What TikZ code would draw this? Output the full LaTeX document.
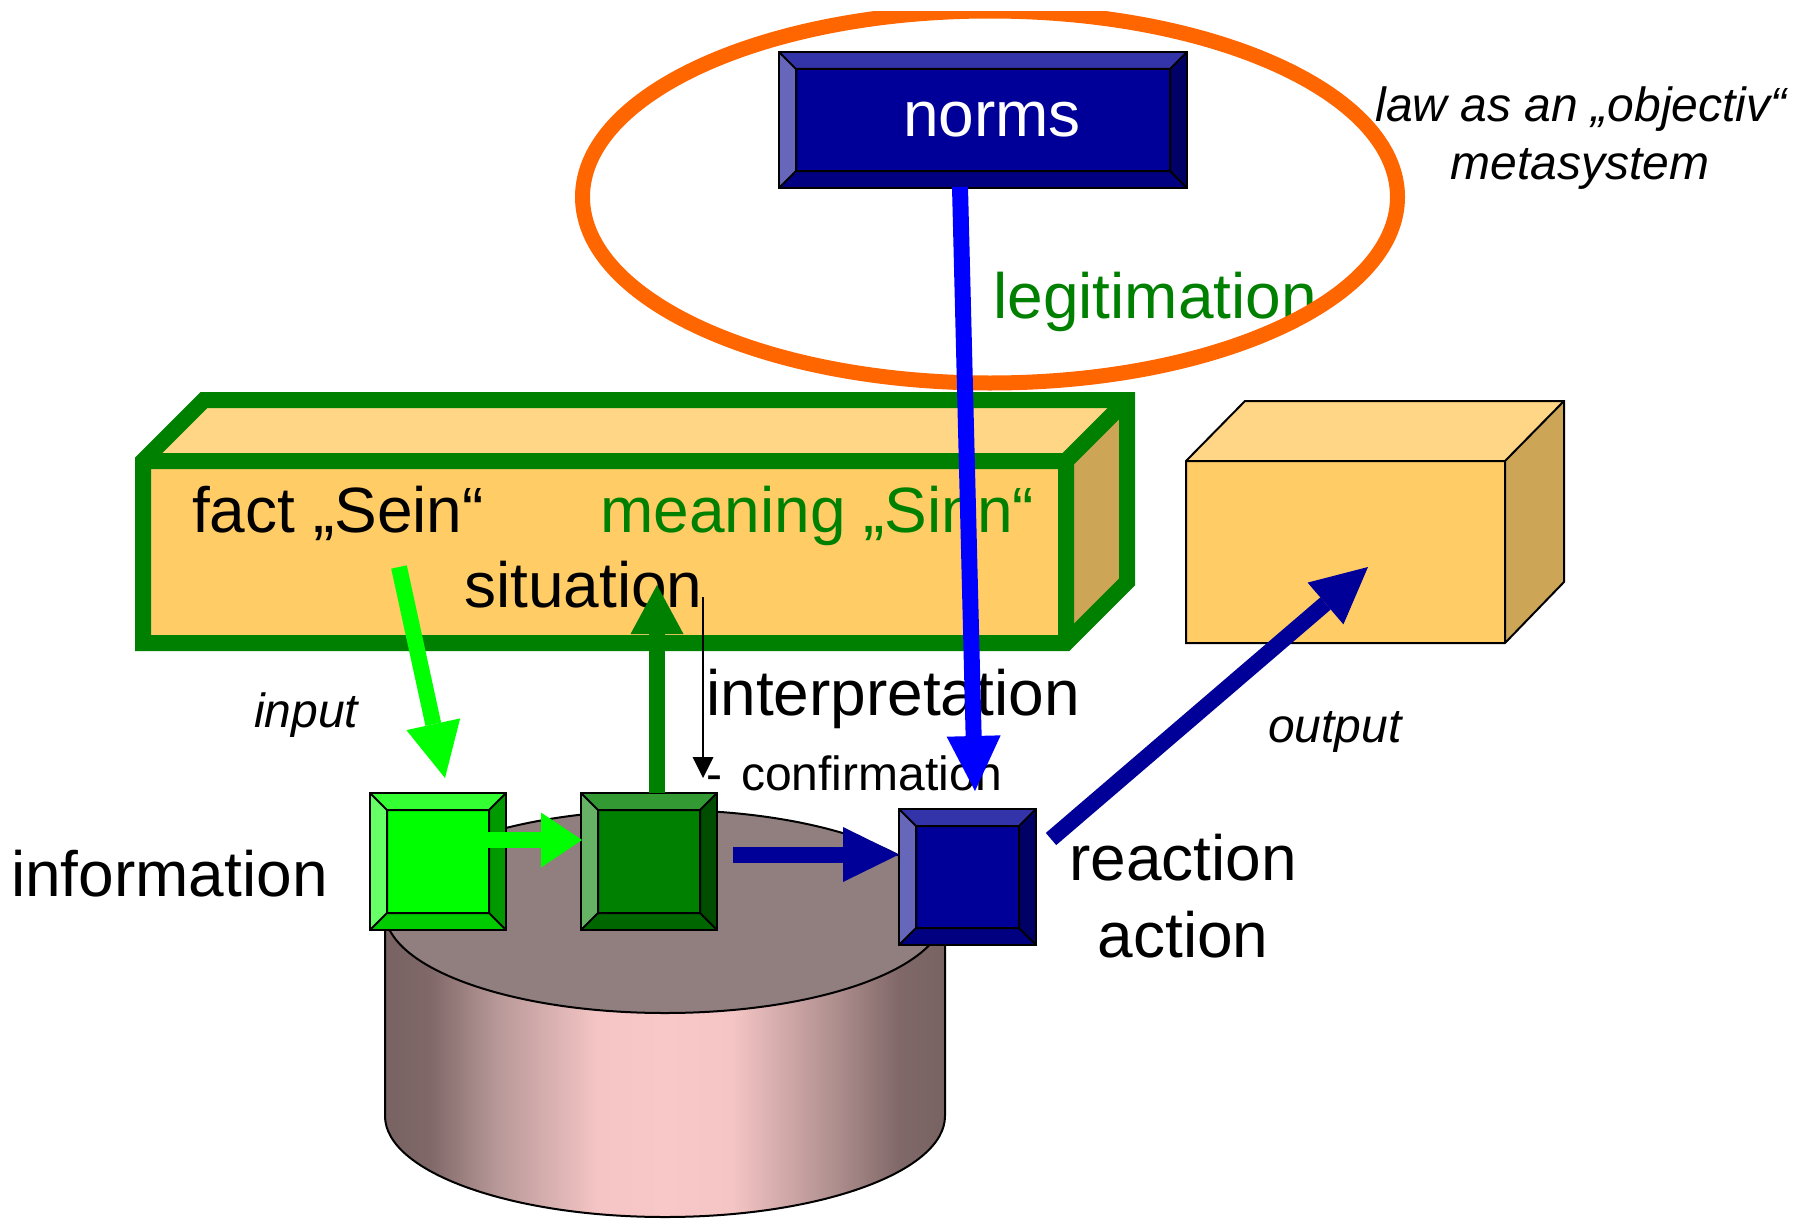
\documentclass[tikz,border=0pt]{standalone}
\usepackage{fontspec}
\setmainfont{Liberation Sans}
\usetikzlibrary{arrows.meta,calc}
\definecolor{lgC}{HTML}{00FF00}\definecolor{lgT}{HTML}{33FF33}\definecolor{lgL}{HTML}{66FF66}\definecolor{lgR}{HTML}{009900}\definecolor{lgB}{HTML}{00CC00}
\definecolor{dgC}{HTML}{008000}\definecolor{dgT}{HTML}{339933}\definecolor{dgL}{HTML}{66B366}\definecolor{dgR}{HTML}{004D00}\definecolor{dgB}{HTML}{006600}
\definecolor{blC}{HTML}{000099}\definecolor{blT}{HTML}{3333AA}\definecolor{blL}{HTML}{6666BB}\definecolor{blR}{HTML}{000066}\definecolor{blB}{HTML}{000080}
\definecolor{orangeC}{HTML}{FF6600}
\definecolor{pureblue}{HTML}{0000FF}
\definecolor{boxFront}{HTML}{FFCC66}\definecolor{boxTop}{HTML}{FFD685}\definecolor{boxSide}{HTML}{CCA656}
\definecolor{cylTop}{HTML}{917F7F}
\definecolor{cyA}{HTML}{786262}\definecolor{cyB}{HTML}{806868}\definecolor{cyC}{HTML}{B89898}\definecolor{cyD}{HTML}{F5C5C5}\definecolor{cyE}{HTML}{F8C8C8}\definecolor{cyF}{HTML}{B08F8F}
\pgfdeclarehorizontalshading{cylshade}{100bp}{color(0bp)=(cyA); color(25bp)=(cyA); color(29bp)=(cyB); color(35bp)=(cyC); color(44bp)=(cyD); color(50bp)=(cyE); color(56bp)=(cyD); color(65bp)=(cyF); color(71bp)=(cyB); color(75bp)=(cyA); color(100bp)=(cyA)}
\tikzset{
  txt/.style={inner sep=0pt, anchor=base west, font=\fontsize{64}{72}\selectfont},
  txtc/.style={inner sep=0pt, anchor=base, font=\fontsize{64}{72}\selectfont},
  smalli/.style={inner sep=0pt, anchor=base west, font=\fontsize{48}{56}\selectfont\itshape},
  smallic/.style={inner sep=0pt, anchor=base, font=\fontsize{48}{56}\selectfont\itshape},
  small/.style={inner sep=0pt, anchor=base west, font=\fontsize{48}{56}\selectfont},
  bevelbox/.style n args={5}{rectangle, draw=black, line width=2pt, fill=#1, inner sep=0pt,
    path picture={
      \path (path picture bounding box.north west) coordinate (pNW)
            (path picture bounding box.north east) coordinate (pNE)
            (path picture bounding box.south west) coordinate (pSW)
            (path picture bounding box.south east) coordinate (pSE);
      \coordinate (iNW) at ($(pNW)+(17,17)$);
      \coordinate (iNE) at ($(pNE)+(-17,17)$);
      \coordinate (iSW) at ($(pSW)+(17,-17)$);
      \coordinate (iSE) at ($(pSE)+(-17,-17)$);
      \fill[#2] (pNW)--(pNE)--(iNE)--(iNW)--cycle;
      \fill[#3] (pNW)--(iNW)--(iSW)--(pSW)--cycle;
      \fill[#4] (pNE)--(pSE)--(iSE)--(iNE)--cycle;
      \fill[#5] (pSW)--(iSW)--(iSE)--(pSE)--cycle;
      \draw[black, line width=2pt] (iNW) rectangle (iSE) (pNW)--(iNW) (pNE)--(iNE) (pSW)--(iSW) (pSE)--(iSE);
    }},
  thickarrow/.style n args={3}{line width=16pt, #1, -{Triangle[length=#2pt,width=#3pt,line width=0pt]}}
}
\begin{document}
\begin{tikzpicture}[x=1pt,y=-1pt]
\useasboundingbox (0,0) rectangle (1798,1223);
\fill[white] (0,0) rectangle (1798,1223);

% legitimation and the metasystem ellipse
\node[txt, text=dgC] (legit) at (993,318) {legitimation};
\begin{scope}
  \clip (0,12) rectangle (1798,1223);
  \draw[orangeC, line width=15pt] (990,197) ellipse [x radius=407.5, y radius=186];
\end{scope}
\node[smallic] (law1) at (1581,121) {law as an „objectiv“};
\node[smallic] (law2) at (1580,179) {metasystem};

% situation box
\coordinate (F1) at (143,461); \coordinate (F2) at (1066,461);
\coordinate (F3) at (1066,643); \coordinate (F4) at (143,643);
\coordinate (B1) at (204,400); \coordinate (B2) at (1127,400); \coordinate (B3) at (1127,582);
\fill[boxFront] (F1) rectangle (F3);
\fill[boxTop] (F1)--(B1)--(B2)--(F2)--cycle;
\fill[boxSide] (F2)--(B2)--(B3)--(F3)--cycle;
\draw[dgC, line width=16pt, line join=miter] (F4)--(F1)--(B1)--(B2)--(B3)--(F3)--cycle;
\draw[dgC, line width=16pt, line join=miter] (F1)--(F2)--(F3) (F2)--(B2);
\node[txt] (fact) at (192,532) {fact „Sein“};
\node[txt, text=dgC] (meaning) at (600,532) {meaning „Sinn“};
\node[txt] (situation) at (464,607) {situation};

% output box
\coordinate (G1) at (1186,461); \coordinate (G2) at (1505,461);
\coordinate (G3) at (1505,643); \coordinate (G4) at (1186,643);
\coordinate (H1) at (1245,401); \coordinate (H2) at (1564,401); \coordinate (H3) at (1564,582);
\fill[boxFront] (G1) rectangle (G3);
\fill[boxTop] (G1)--(H1)--(H2)--(G2)--cycle;
\fill[boxSide] (G2)--(H2)--(H3)--(G3)--cycle;
\draw[black, line width=2pt, line join=miter] (G4)--(G1)--(H1)--(H2)--(H3)--(G3)--cycle (G1)--(G2)--(G3) (G2)--(H2);

% cylinder
\shade[shading=cylshade] (385,911.5) -- (385,1116) arc[start angle=180, end angle=0, x radius=280, y radius=101] -- (945,911.5) -- cycle;
\draw[black, line width=2pt] (385,911.5) -- (385,1116) arc[start angle=180, end angle=0, x radius=280, y radius=101] -- (945,911.5);
\draw[black, line width=2pt, fill=cylTop] (665,911.5) ellipse [x radius=280, y radius=101.5];

% bevelled boxes
\node[bevelbox={lgC}{lgT}{lgL}{lgR}{lgB}, minimum width=136pt, minimum height=137pt] (info) at (438,861.5) {};
\node[bevelbox={dgC}{dgT}{dgL}{dgR}{dgB}, minimum width=136pt, minimum height=137pt] (sit) at (649,861.5) {};
\node[bevelbox={blC}{blT}{blL}{blR}{blB}, minimum width=137pt, minimum height=136pt] (react) at (967.5,877) {};
\node[bevelbox={blC}{blT}{blL}{blR}{blB}, minimum width=408pt, minimum height=136pt, text=white, font=\fontsize{64}{72}\selectfont] (norms) at (983,120) {\hspace{18pt}norms};

% labels
\node[txt] (information) at (11,896) {information};
\node[smalli] (input) at (254,727) {input};
\node[txt] (interp) at (706,715) {interpretation};
\node[small] (confirm) at (706,790) {-\hspace{19pt}confirmation};
\node[txtc] (reaction) at (1183,880) {reaction};
\node[txtc] (action) at (1183,957) {action};
\node[smalli] (output) at (1268,742) {output};

% connectors
\coordinate (inS) at (399,567); \coordinate (inE) at (445,778);
\draw[thickarrow={lgC}{55}{55}] (inS) -- (inE);
\coordinate (hS) at (488,840); \coordinate (hE) at (582,840);
\draw[thickarrow={lgC}{41}{55}] (hS) -- (hE);
\coordinate (upS) at (657,793); \coordinate (upE) at (657,585);
\draw[thickarrow={dgC}{49}{53}] (upS) -- (upE);
\coordinate (cS) at (703,597); \coordinate (cE) at (703,778);
\draw[black, line width=2pt, -{Triangle[length=21pt,width=21pt,line width=0pt]}] (cS) -- (cE);
\coordinate (dbS) at (733,854.5); \coordinate (dbE) at (899,854.5);
\draw[thickarrow={blC}{56}{55}] (dbS) -- (dbE);
\coordinate (outS) at (1051,839); \coordinate (outE) at (1368,567);
\draw[thickarrow={blC}{56}{55}] (outS) -- (outE);
\coordinate (legS) at (960,187); \coordinate (legE) at (975,791);
\draw[thickarrow={pureblue}{55}{54}] (legS) -- (legE);
\end{tikzpicture}
\end{document}
